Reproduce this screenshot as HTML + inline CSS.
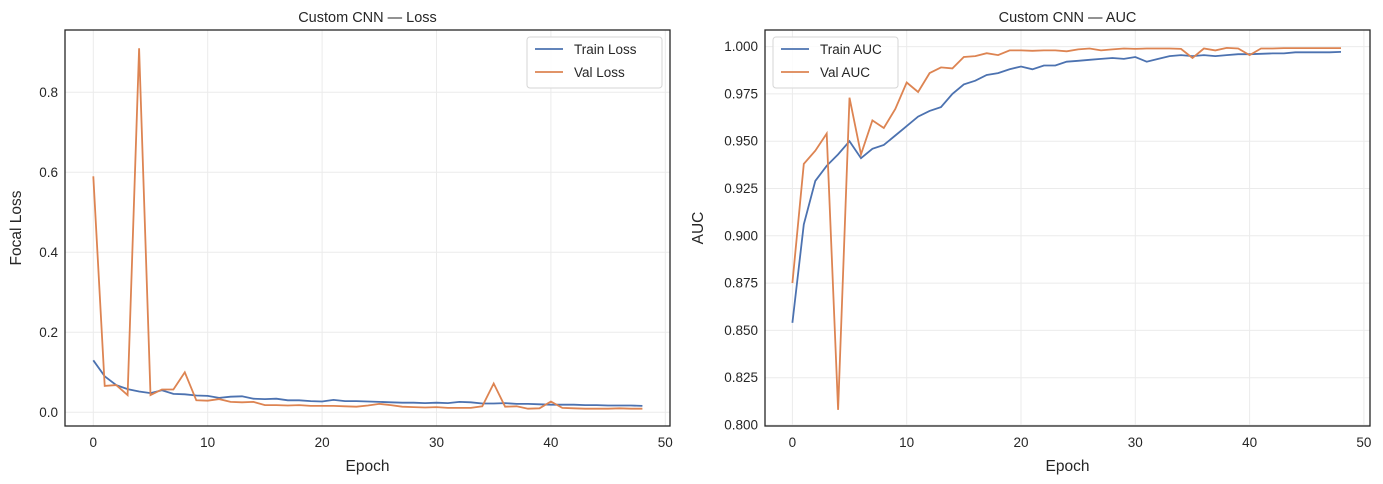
<!DOCTYPE html><html><head><style>body{margin:0;background:#fff}svg{display:block;font-family:"Liberation Sans",Arial,sans-serif}</style></head><body>
<svg id="s" width="1383" height="484" xmlns="http://www.w3.org/2000/svg"></svg>
<script>
const s=document.getElementById('s');let h='';
const vl=[0.59,0.066,0.068,0.043,0.91,0.043,0.057,0.057,0.10,0.030,0.029,0.033,0.026,0.025,0.026,0.018,0.018,0.017,0.018,0.016,0.016,0.016,0.015,0.014,0.017,0.021,0.018,0.014,0.013,0.012,0.013,0.011,0.011,0.011,0.015,0.072,0.014,0.015,0.009,0.010,0.027,0.011,0.010,0.009,0.009,0.009,0.010,0.009,0.009];
const tl=[0.13,0.09,0.068,0.058,0.052,0.048,0.055,0.046,0.045,0.042,0.041,0.036,0.039,0.040,0.034,0.033,0.034,0.030,0.030,0.028,0.027,0.031,0.028,0.028,0.027,0.026,0.025,0.024,0.024,0.023,0.024,0.023,0.026,0.025,0.022,0.022,0.023,0.021,0.021,0.020,0.019,0.019,0.019,0.018,0.018,0.017,0.017,0.017,0.016];
const va=[0.875,0.938,0.945,0.954,0.808,0.973,0.943,0.961,0.957,0.967,0.981,0.976,0.986,0.989,0.9885,0.9945,0.995,0.9965,0.9955,0.998,0.998,0.9978,0.998,0.998,0.9975,0.9985,0.999,0.998,0.9985,0.999,0.9988,0.999,0.999,0.999,0.9988,0.994,0.999,0.998,0.9993,0.999,0.9955,0.999,0.999,0.9992,0.9992,0.9992,0.9992,0.9992,0.9992];
const ta=[0.854,0.906,0.929,0.937,0.943,0.950,0.941,0.946,0.948,0.953,0.958,0.963,0.966,0.968,0.975,0.980,0.982,0.985,0.986,0.988,0.9895,0.988,0.990,0.990,0.992,0.9925,0.993,0.9935,0.994,0.9935,0.9945,0.992,0.9935,0.995,0.9955,0.995,0.9955,0.995,0.9955,0.996,0.996,0.9962,0.9964,0.9964,0.997,0.997,0.997,0.997,0.9972];
function panel(L,R,X0,XS,Y0,YS,yt,fmt,title,ylab,tr,vv,names,legx,labx){
 for(let e=0;e<=50;e+=10){const x=X0+e*XS;h+=`<line x1="${x}" y1="30" x2="${x}" y2="426" stroke="#ebebeb"/><text x="${x}" y="447" font-size="13.5" text-anchor="middle" fill="#262626">${e}</text>`;}
 yt.forEach(v=>{const y=Y0-(v-yt[0])*YS;h+=`<line x1="${L}" y1="${y}" x2="${R}" y2="${y}" stroke="#ebebeb"/><text x="${L-7}" y="${y+4.5}" font-size="13.5" text-anchor="end" fill="#262626">${fmt(v)}</text>`;});
 const p=(d,c)=>{h+=`<polyline fill="none" stroke="${c}" stroke-width="1.8" points="${d.map((v,i)=>(X0+i*XS).toFixed(1)+','+(Y0-(v-yt[0])*YS).toFixed(1)).join(' ')}"/>`;};
 p(tr,'#4c72b0');p(vv,'#dd8452');
 h+=`<rect x="${L}" y="30" width="${R-L}" height="396" fill="none" stroke="#262626" stroke-width="1.3"/>`;
 h+=`<text x="${(L+R)/2}" y="22" font-size="14.5" text-anchor="middle" fill="#262626">${title}</text>`;
 h+=`<text x="${(L+R)/2}" y="471" font-size="15.5" text-anchor="middle" fill="#262626">Epoch</text>`;
 h+=`<text transform="translate(${labx},228) rotate(-90)" font-size="15.5" text-anchor="middle" fill="#262626">${ylab}</text>`;
 const w=names[0].length>9?135:125;
 h+=`<rect x="${legx}" y="37" width="${w}" height="51" rx="3" fill="#fff" fill-opacity="0.85" stroke="#d6d6d6"/>`;
 h+=`<line x1="${legx+8}" y1="49" x2="${legx+36}" y2="49" stroke="#4c72b0" stroke-width="1.8"/><text x="${legx+47}" y="54" font-size="13.5" fill="#262626">${names[0]}</text>`;
 h+=`<line x1="${legx+8}" y1="72" x2="${legx+36}" y2="72" stroke="#dd8452" stroke-width="1.8"/><text x="${legx+47}" y="77" font-size="13.5" fill="#262626">${names[1]}</text>`;
}
panel(65,670,93.3,11.44,412.3,400,[0,0.2,0.4,0.6,0.8],v=>v.toFixed(1),'Custom CNN — Loss','Focal Loss',tl,vl,['Train Loss','Val Loss'],527,21);
panel(765,1370,792.4,11.43,425,1892,[0.8,0.825,0.85,0.875,0.9,0.925,0.95,0.975,1.0],v=>v.toFixed(3),'Custom CNN — AUC','AUC',ta,va,['Train AUC','Val AUC'],773,703);
s.innerHTML=h;
</script></body></html>
